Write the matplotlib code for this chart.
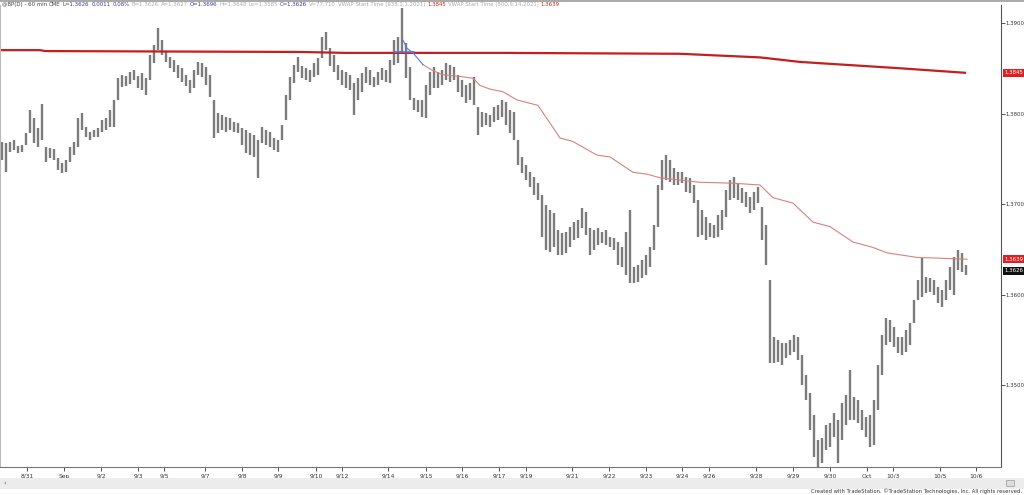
import matplotlib.pyplot as plt
import numpy as np
from matplotlib.patches import Rectangle

# BP(D) 60 min bars, high / low of each bar
highs = [1.3769, 1.3767, 1.3769, 1.3771, 1.3764, 1.3765, 1.3778, 1.3804, 1.3795, 1.3784,
         1.3810, 1.3763, 1.3762, 1.3761, 1.3751, 1.3745, 1.3749, 1.3763, 1.3769, 1.3795,
         1.3801, 1.3785, 1.3780, 1.3782, 1.3784, 1.3793, 1.3795, 1.3804, 1.3815, 1.3839,
         1.3843, 1.3841, 1.3846, 1.3848, 1.3841, 1.3845, 1.3839, 1.3865, 1.3876, 1.3894,
         1.3881, 1.3868, 1.3862, 1.3859, 1.3854, 1.3850, 1.3843, 1.3837, 1.3848, 1.3857,
         1.3856, 1.3851, 1.3843, 1.3815, 1.3801, 1.3798, 1.3796, 1.3795, 1.3791, 1.3790,
         1.3784, 1.3782, 1.3778, 1.3776, 1.3771, 1.3785, 1.3782, 1.3780, 1.3773, 1.3771,
         1.3787, 1.3820, 1.3840, 1.3854, 1.3862, 1.3852, 1.3850, 1.3848, 1.3856, 1.3861,
         1.3885, 1.3890, 1.3872, 1.3865, 1.3854, 1.3848, 1.3846, 1.3843, 1.3834, 1.3839,
         1.3845, 1.3851, 1.3848, 1.3840, 1.3846, 1.3850, 1.3848, 1.3859, 1.3881, 1.3885,
         1.3917, 1.3878, 1.3851, 1.3817, 1.3815, 1.3815, 1.3831, 1.3846, 1.3851, 1.3846,
         1.3848, 1.3856, 1.3854, 1.3851, 1.3843, 1.3837, 1.3831, 1.3834, 1.3840, 1.3807,
         1.3802, 1.3801, 1.3798, 1.3807, 1.3809, 1.3815, 1.3813, 1.3804, 1.3802, 1.3771,
         1.3752, 1.3743, 1.3735, 1.3730, 1.3723, 1.3710, 1.3699, 1.3693, 1.3690, 1.3671,
         1.3668, 1.3669, 1.3675, 1.3680, 1.3682, 1.3696, 1.3691, 1.3673, 1.3671, 1.3673,
         1.3669, 1.3671, 1.3664, 1.3662, 1.3658, 1.3652, 1.3669, 1.3693, 1.3630, 1.3633,
         1.3638, 1.3644, 1.3652, 1.3677, 1.3721, 1.3749, 1.3754, 1.3749, 1.3740, 1.3735,
         1.3735, 1.3730, 1.3729, 1.3721, 1.3704, 1.3693, 1.3686, 1.3679, 1.3677, 1.3688,
         1.3693, 1.3715, 1.3727, 1.3730, 1.3723, 1.3718, 1.3713, 1.3708, 1.3713, 1.3719,
         1.3697, 1.3677, 1.3616, 1.3553, 1.3550, 1.3546, 1.3546, 1.3550, 1.3555, 1.3553,
         1.3533, 1.3511, 1.3491, 1.3467, 1.3439, 1.3441, 1.3456, 1.3458, 1.3469, 1.3461,
         1.3480, 1.3489, 1.3517, 1.3487, 1.3483, 1.3472, 1.3465, 1.3467, 1.3483, 1.3522,
         1.3555, 1.3574, 1.3572, 1.3564, 1.3553, 1.3553, 1.3561, 1.3568, 1.3594, 1.3616,
         1.3640, 1.3619, 1.3618, 1.3616, 1.3608, 1.3605, 1.3616, 1.3630, 1.3641, 1.3649,
         1.3646, 1.3633]
lows = [1.3749, 1.3735, 1.3757, 1.3760, 1.3756, 1.3757, 1.3765, 1.3778, 1.3767, 1.3763,
        1.3771, 1.3746, 1.3751, 1.3749, 1.3738, 1.3734, 1.3735, 1.3746, 1.3754, 1.3763,
        1.3782, 1.3774, 1.3771, 1.3774, 1.3774, 1.3780, 1.3782, 1.3785, 1.3785, 1.3815,
        1.3829, 1.3830, 1.3833, 1.3837, 1.3828, 1.3826, 1.3820, 1.3837, 1.3856, 1.3870,
        1.3865, 1.3857, 1.3850, 1.3846, 1.3839, 1.3835, 1.3830, 1.3823, 1.3828, 1.3843,
        1.3840, 1.3831, 1.3818, 1.3773, 1.3778, 1.3782, 1.3780, 1.3782, 1.3780, 1.3778,
        1.3765, 1.3756, 1.3754, 1.3752, 1.3729, 1.3767, 1.3765, 1.3763, 1.3760, 1.3757,
        1.3771, 1.3793, 1.3815, 1.3834, 1.3846, 1.3839, 1.3837, 1.3835, 1.3840, 1.3843,
        1.3861, 1.3870, 1.3852, 1.3846, 1.3837, 1.3831, 1.3828, 1.3826, 1.3798, 1.3815,
        1.3824, 1.3834, 1.3831, 1.3829, 1.3831, 1.3837, 1.3835, 1.3834, 1.3854, 1.3856,
        1.3867, 1.3839, 1.3815, 1.3804, 1.3802, 1.3796, 1.3795, 1.3820, 1.3828, 1.3828,
        1.3831, 1.3837, 1.3835, 1.3837, 1.3824, 1.3818, 1.3812, 1.3815, 1.3809, 1.3776,
        1.3785, 1.3787, 1.3785, 1.3791, 1.3793, 1.3796, 1.3787, 1.3778, 1.3771, 1.3743,
        1.3734, 1.3727, 1.3719, 1.3710, 1.3704, 1.3664, 1.3649, 1.3647, 1.3652, 1.3644,
        1.3644, 1.3646, 1.3652, 1.3660, 1.3662, 1.3673, 1.3666, 1.3644, 1.3649, 1.3655,
        1.3657, 1.3655, 1.3652, 1.3649, 1.3633, 1.3630, 1.3622, 1.3613, 1.3613, 1.3614,
        1.3618, 1.3622, 1.3630, 1.3649, 1.3675, 1.3715, 1.3727, 1.3724, 1.3721, 1.3721,
        1.3723, 1.3713, 1.3712, 1.3701, 1.3664, 1.3666, 1.3660, 1.3664, 1.3662, 1.3664,
        1.3671, 1.3686, 1.3704, 1.3707, 1.3704, 1.3701, 1.3697, 1.3690, 1.3693, 1.3701,
        1.3660, 1.3633, 1.3524, 1.3524, 1.3525, 1.3522, 1.3530, 1.3533, 1.3536, 1.3528,
        1.3500, 1.3483, 1.3450, 1.3420, 1.3409, 1.3414, 1.3428, 1.3431, 1.3443, 1.3414,
        1.3439, 1.3456, 1.3461, 1.3461, 1.3458, 1.3450, 1.3443, 1.3431, 1.3434, 1.3472,
        1.3511, 1.3544, 1.3547, 1.3542, 1.3535, 1.3533, 1.3536, 1.3544, 1.3568, 1.3594,
        1.3597, 1.3602, 1.3603, 1.3599, 1.3591, 1.3586, 1.3594, 1.3605, 1.3599, 1.3627,
        1.3625, 1.3622]

# session labels on the time axis and the bar where each one sits
day_labels = ['8/31', 'Sep', '9/2', '9/3', '9/5', '9/7', '9/8', '9/9', '9/10', '9/12',
              '9/14', '9/15', '9/16', '9/17', '9/19', '9/21', '9/22', '9/23', '9/24',
              '9/26', '9/28', '9/29', '9/30', 'Oct', '10/3', '10/5', '10/6']
day_bars = [6.25, 15.5, 24.75, 34, 40.5, 50.75, 60, 69, 78.5, 85, 96.5, 106, 115,
            124.25, 131, 142.5, 151.75, 161, 170, 176.75, 188.5, 197.75, 207, 216.25,
            222.75, 234.5, 243.5]

# VWAP Start Time (938,1,1,2021)
vwap_year_bars = [-0.5, 9.5, 10.75, 74.5, 85.75, 124.5, 169.5, 189.5, 199.5, 224.5, 240.75]
vwap_year = [1.3870, 1.3870, 1.3869, 1.3868, 1.3867, 1.3867, 1.3866, 1.3862, 1.3857,
             1.3850, 1.3845]

# VWAP Start Time (800,9,14,2021)
vwap_sep_bars = [100.25, 101.25, 102.75, 105.25, 107.5, 110, 114.5, 117.75, 119.5, 122,
                 125.25, 128.75, 134, 139.5, 142.75, 148.75, 152, 157.75, 161.25, 164.5,
                 174.5, 182.75, 189.5, 192.75, 197.75, 202.75, 207, 212.75, 217.75,
                 221.25, 228.75, 241.25]
vwap_sep = [1.3881, 1.3872, 1.3867, 1.3854, 1.3848, 1.3843, 1.3841, 1.3839, 1.3831,
            1.3827, 1.3824, 1.3815, 1.3809, 1.3773, 1.3769, 1.3754, 1.3752, 1.3735,
            1.3733, 1.3729, 1.3724, 1.3723, 1.3721, 1.3707, 1.3701, 1.3680, 1.3675,
            1.3658, 1.3652, 1.3646, 1.3641, 1.3639]

price_ticks = [1.35, 1.36, 1.37, 1.38, 1.39]
last_price = 1.3626

W, H = 1024, 495
fig = plt.figure(figsize=(W / 100, H / 100), dpi=100)
ax = fig.add_axes([0, 1 - 467 / H, 1001 / W, 462 / H])

x = np.arange(len(highs))
ax.vlines(x, lows, highs, color='#7c7c7c', lw=1.7)

ax.plot(vwap_year_bars, vwap_year, color='#c41e1e', lw=1.6)
ax.plot(vwap_sep_bars[3:], vwap_sep[3:], color='#d88080', lw=0.8)
ax.plot(vwap_sep_bars[:4], vwap_sep[:4], color='#5577dd', lw=0.8)
ax.plot([98, 103], [1.3868, 1.3868], color='#5577dd', lw=1.2)

ax.set_xlim(-0.5, 249.75)
ax.set_ylim(1.34094, 1.39199)

# price scale on the right
ax.yaxis.tick_right()
ax.set_yticks(price_ticks)
ax.set_yticklabels(['%.4f' % p for p in price_ticks])
ax.tick_params(axis='y', length=3, width=0.6, pad=0.5, labelsize=3.9, colors='#333333')

ax.set_xticks(day_bars)
ax.set_xticklabels(day_labels)
ax.tick_params(axis='x', length=3, width=0.6, pad=2, labelsize=4.3, colors='#333333')

ax.spines['top'].set_visible(False)
ax.spines['left'].set_color('#bbbbbb')
ax.spines['right'].set_color('#555555')
ax.spines['bottom'].set_color('#777777')
for s in ax.spines.values():
    s.set_linewidth(0.8)

# last value boxes on the price scale
boxes = [(vwap_year[-1], '#e02020', 'white'),
         (vwap_sep[-1], '#e02020', 'white'),
         (last_price, '#111111', 'white')]
for val, bg, fg in boxes:
    ax.text(1.003, val, '%.4f' % val, transform=ax.get_yaxis_transform(),
            ha='left', va='center', fontsize=3.9, color=fg, clip_on=False,
            bbox=dict(boxstyle='square,pad=0.25', fc=bg, ec='none'))

# frame line at top
fig.add_artist(plt.Line2D([0, 1], [1 - 1 / H, 1 - 1 / H], color='#999999', lw=1.2,
                          transform=fig.transFigure))

# header line, pieces laid one after another
header = [('@BP(D) - 60 min', '#444444'), ('CME', '#444444'),
          ('L=1.3626', '#3a3aa0'), ('0.0011', '#3a3aa0'), ('0.08%', '#3a3aa0'),
          ('B=1.3626', '#aaaaaa'), ('A=1.3627', '#aaaaaa'),
          ('O=1.3696', '#3a3aa0'), ('H=1.3648', '#aaaaaa'),
          ('Lo=1.3585', '#aaaaaa'), ('C=1.3626', '#3a3aa0'),
          ('V=77,710', '#aaaaaa'), ('VWAP Start Time (938,1,1,2021)', '#aaaaaa'),
          ('1.3845', '#d02020'), ('VWAP Start Time (800,9,14,2021)', '#aaaaaa'),
          ('1.3639', '#d02020')]
renderer = fig.canvas.get_renderer()
px = 2
for txt, c in header:
    t = fig.text(px / W, 1 - 4.5 / H, txt, ha='left', va='center', fontsize=3.9, color=c)
    px += t.get_window_extent(renderer).width + 2

# scroll bar strip at the bottom
fig.add_artist(Rectangle((0, 1 - 489 / H), 1, 11 / H, transform=fig.transFigure,
                         fc='#ececec', ec='none'))
fig.text(3 / W, 1 - 483 / H, '‹', fontsize=5, color='#666666', va='center')
fig.add_artist(Rectangle((1006 / W, 1 - 486 / H), 8 / W, 6 / H, transform=fig.transFigure,
                         fc='#dddddd', ec='#999999', lw=0.5))
fig.text(1022 / W, 1 - 491 / H,
         'Created with TradeStation. \u00a9TradeStation Technologies, Inc. All rights reserved.',
         ha='right', va='center', fontsize=3.8, color='#333333')

plt.savefig('out.png', dpi=100)
